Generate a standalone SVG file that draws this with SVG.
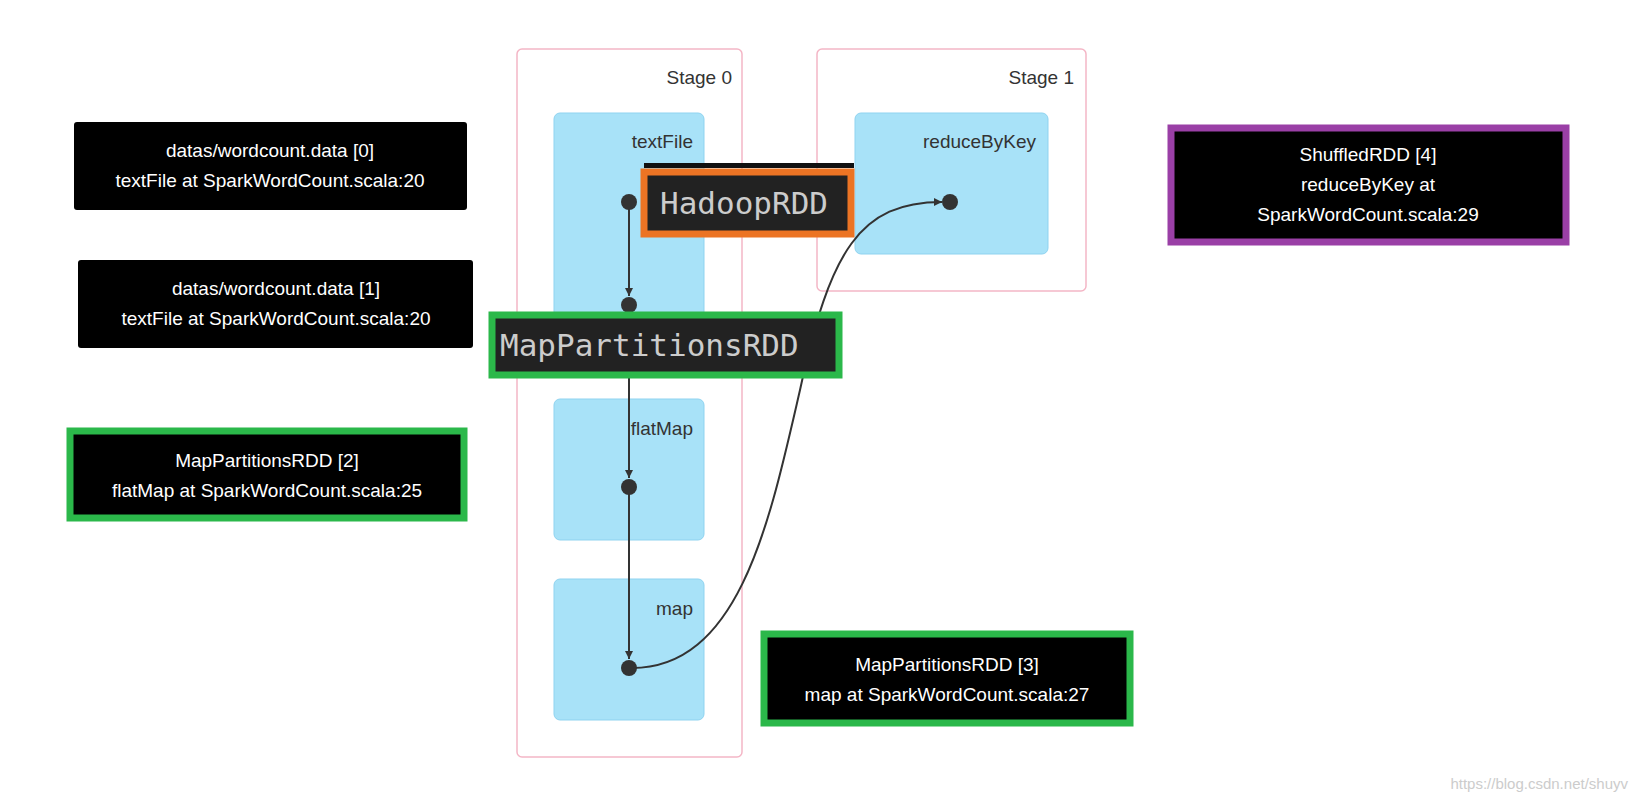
<svg xmlns="http://www.w3.org/2000/svg" width="1647" height="800" viewBox="0 0 1647 800">
<defs>
<style>
.stage{fill:#fff;stroke:#f4b6c6;stroke-width:1.5}
.cl{fill:#a8e2f8;stroke:#8fd3f0;stroke-width:1}
.lbl{font-family:"Liberation Sans",Arial,sans-serif;font-size:19px;fill:#333;text-anchor:end}
.dot{fill:#333}
.edge{fill:none;stroke:#333;stroke-width:2}
.info{fill:#000;stroke-width:7}
.it{font-family:"Liberation Sans",Arial,sans-serif;font-size:19px;fill:#fff;text-anchor:middle}
.mono{font-family:"DejaVu Sans Mono",monospace;font-size:31px;fill:#ccc}
</style>
<marker id="ah" viewBox="0 0 10 10" refX="10" refY="5" markerWidth="8" markerHeight="8" orient="auto" markerUnits="userSpaceOnUse"><path d="M0,0L10,5L0,10z" fill="#333"/></marker>
</defs>
<rect width="1647" height="800" fill="#fff"/>
<g id="stage0"><rect class="stage" x="517" y="49" width="225" height="708" rx="5"/><text class="lbl" x="732" y="84">Stage 0</text></g>
<g id="stage1"><rect class="stage" x="817" y="49" width="269" height="242" rx="5"/><text class="lbl" x="1074" y="84">Stage 1</text></g>
<g id="textFile"><rect class="cl" x="554" y="113" width="150" height="205" rx="6"/><text class="lbl" x="693" y="148">textFile</text></g>
<g id="flatMap"><rect class="cl" x="554" y="399" width="150" height="141" rx="6"/><text class="lbl" x="693" y="435">flatMap</text></g>
<g id="map"><rect class="cl" x="554" y="579" width="150" height="141" rx="6"/><text class="lbl" x="693" y="615">map</text></g>
<g id="reduceByKey"><rect class="cl" x="855" y="113" width="193" height="141" rx="6"/><text class="lbl" x="1036" y="148">reduceByKey</text></g>
<g id="edges">
<path class="edge" d="M629,202L629,296" marker-end="url(#ah)"/>
<path class="edge" d="M629,305L629,478" marker-end="url(#ah)"/>
<path class="edge" d="M629,487L629,659" marker-end="url(#ah)"/>
<path class="edge" d="M632,668C740,668 770,520 800,390C830,250 860,202 942,202" marker-end="url(#ah)"/>
</g>
<g id="dots"><circle class="dot" cx="629" cy="202" r="8"/><circle class="dot" cx="629" cy="305" r="8"/><circle class="dot" cx="629" cy="487" r="8"/><circle class="dot" cx="629" cy="668" r="8"/><circle class="dot" cx="950" cy="202" r="8"/></g>
<g id="hadoop"><rect x="644" y="163" width="210" height="5" fill="#111"/><rect x="644" y="172" width="207" height="62" fill="#222" stroke="#ec7424" stroke-width="7"/><text class="mono" x="660" y="214">HadoopRDD</text></g>
<g id="mappart"><rect x="492" y="315" width="347" height="60" fill="#222" stroke="#2bb84a" stroke-width="7"/><text class="mono" x="500" y="356">MapPartitionsRDD</text></g>
<g id="rdd0"><rect x="74" y="122" width="393" height="88" rx="3" fill="#000"/><text class="it" x="270" y="157">datas/wordcount.data [0]</text><text class="it" x="270" y="187">textFile at SparkWordCount.scala:20</text></g>
<g id="rdd1"><rect x="78" y="260" width="395" height="88" rx="3" fill="#000"/><text class="it" x="276" y="295">datas/wordcount.data [1]</text><text class="it" x="276" y="325">textFile at SparkWordCount.scala:20</text></g>
<g id="rdd2"><rect class="info" x="70" y="431" width="394" height="87" stroke="#2bb84a"/><text class="it" x="267" y="467">MapPartitionsRDD [2]</text><text class="it" x="267" y="497">flatMap at SparkWordCount.scala:25</text></g>
<g id="rdd3"><rect class="info" x="764" y="634" width="366" height="89" stroke="#2bb84a"/><text class="it" x="947" y="671">MapPartitionsRDD [3]</text><text class="it" x="947" y="701">map at SparkWordCount.scala:27</text></g>
<g id="rdd4"><rect class="info" x="1171" y="128" width="395" height="114" stroke="#9a3fa6"/><text class="it" x="1368" y="161">ShuffledRDD [4]</text><text class="it" x="1368" y="191">reduceByKey at</text><text class="it" x="1368" y="221">SparkWordCount.scala:29</text></g>
<text x="1628" y="789" font-family="Liberation Sans,Arial,sans-serif" font-size="15" fill="#ccc" text-anchor="end">https://blog.csdn.net/shuyv</text>
</svg>
